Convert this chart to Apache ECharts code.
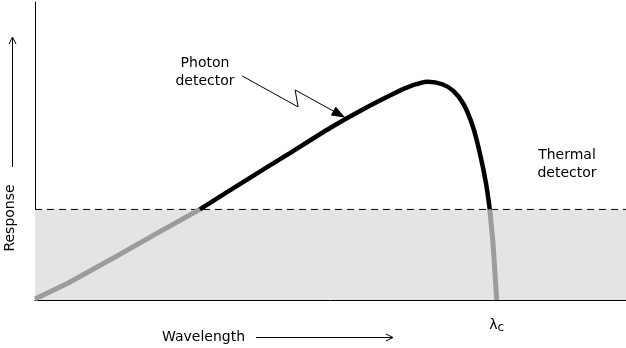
<!DOCTYPE html>
<html>
<head>
<meta charset="utf-8">
<title>Photon vs thermal detector response</title>
<script src="https://cdn.jsdelivr.net/npm/echarts@6/dist/echarts.min.js"></script>
<style>
  html, body { margin: 0; padding: 0; background: #fff; }
  #chart { width: 626px; height: 348px; }
</style>
</head>
<body>
<div id="chart"></div>
<script>
// Wavelength in % of the cutoff wavelength, response in arbitrary units.
const cutoffWavelength = 100;
const thermalLevel = 30.4;

// Photon detector response, split where it crosses the thermal level.
const photonBelowRise = [[0, 0.3], [7.2, 5.7], [17.8, 14.8], [26.0, 22.0], [35.7, 30.4]];
const photonAbove = [
  [35.7, 30.4], [45.5, 40.0], [55.2, 49.3], [64.0, 57.8], [70.5, 63.5],
  [76.2, 68.1], [80.5, 71.3], [85.1, 73.2], [88.2, 72.4], [90.6, 70.2],
  [92.8, 65.8], [94.9, 57.9], [96.4, 48.9], [97.7, 39.0], [98.5, 30.4]
];
const photonBelowCutoff = [[98.5, 30.4], [99.2, 19.1], [100, 0]];

// Flat thermal detector response across the whole wavelength range.
const thermalResponse = [[0, thermalLevel], [128, thermalLevel]];

// Point on the curve that the "Photon detector" callout points to.
const calloutAnchor = [67.6, 61.1];

const FONT = '"DejaVu Sans", sans-serif';
const BLACK = '#000';
const GREY = '#9c9c9c';

const chart = echarts.init(document.getElementById('chart'), null, { renderer: 'canvas' });

chart.setOption({
  animation: false,
  backgroundColor: '#fff',
  grid: { left: 35, right: 0, top: 2, bottom: 48, containLabel: false },
  xAxis: {
    type: 'value', min: 0, max: 128,
    axisLine: { show: true, lineStyle: { color: BLACK, width: 1 } },
    axisTick: { show: false },
    splitLine: { show: false },
    axisLabel: {
      show: true,
      customValues: [cutoffWavelength],
      margin: 17,
      formatter: () => '{l|λ}{s|c}',
      rich: {
        l: { fontFamily: FONT, fontSize: 14, color: BLACK },
        s: { fontFamily: FONT, fontSize: 12, color: BLACK, padding: [5, 0, 0, 0] }
      }
    }
  },
  yAxis: {
    type: 'value', min: 0, max: 100,
    axisLine: { show: true, lineStyle: { color: BLACK, width: 1 } },
    axisTick: { show: false },
    axisLabel: { show: false },
    splitLine: { show: false }
  },
  series: [
    {
      name: 'Thermal detector',
      type: 'line',
      data: thermalResponse,
      symbol: 'none',
      z: 1,
      lineStyle: { color: BLACK, width: 1, type: [7, 5] },
      areaStyle: { color: '#e4e4e4', opacity: 1 }
    },
    {
      name: 'Photon detector (below thermal, rising)',
      type: 'line',
      data: photonBelowRise,
      symbol: 'none',
      z: 3,
      lineStyle: { color: GREY, width: 5 }
    },
    {
      name: 'Photon detector',
      type: 'line',
      data: photonAbove,
      symbol: 'none',
      smooth: 0.25,
      z: 4,
      lineStyle: { color: BLACK, width: 4.5 }
    },
    {
      name: 'Photon detector (below thermal, cutoff)',
      type: 'line',
      data: photonBelowCutoff,
      symbol: 'none',
      z: 3,
      lineStyle: { color: GREY, width: 5 }
    }
  ],
  graphic: [
    {
      id: 'yName', type: 'text', x: 10, y: 218, rotation: Math.PI / 2,
      style: { text: 'Response', font: '14px ' + FONT, fill: BLACK, align: 'center', verticalAlign: 'middle' }
    },
    {
      id: 'yArrowShaft', type: 'line',
      shape: { x1: 12.5, y1: 167, x2: 12.5, y2: 38 },
      style: { stroke: BLACK, lineWidth: 1 }
    },
    {
      id: 'yArrowHead', type: 'polyline',
      shape: { points: [[9, 44], [12.5, 37], [16, 44]] },
      style: { stroke: BLACK, lineWidth: 1, fill: null }
    },
    {
      id: 'xName', type: 'text', x: 162, y: 337,
      style: { text: 'Wavelength', font: '14px ' + FONT, fill: BLACK, align: 'left', verticalAlign: 'middle' }
    },
    {
      id: 'xArrowShaft', type: 'line',
      shape: { x1: 256, y1: 337.5, x2: 392, y2: 337.5 },
      style: { stroke: BLACK, lineWidth: 1 }
    },
    {
      id: 'xArrowHead', type: 'polyline',
      shape: { points: [[386, 334], [393, 337.5], [386, 341]] },
      style: { stroke: BLACK, lineWidth: 1, fill: null }
    },
    {
      id: 'photonLabel', type: 'text', x: 205, y: 72,
      style: { text: 'Photon\ndetector', font: '14px ' + FONT, lineHeight: 18, fill: BLACK, align: 'center', verticalAlign: 'middle' }
    },
    {
      id: 'thermalLabel', type: 'text', x: 567, y: 164,
      style: { text: 'Thermal\ndetector', font: '14px ' + FONT, lineHeight: 18, fill: BLACK, align: 'center', verticalAlign: 'middle' }
    }
  ]
});

// Lightning-bolt callout from the label to the photon detector curve.
const tip = chart.convertToPixel({ gridIndex: 0 }, calloutAnchor);
const tx = tip[0] - 3, ty = tip[1] - 1;
const bolt = [[tx - 102, ty - 41], [tx - 46, ty - 10], [tx - 49, ty - 27], [tx - 10, ty - 5.5]];
const ang = Math.atan2(ty - bolt[2][1], tx - bolt[2][0]);
const headLen = 12, headHalf = 4.5;
const bx = tx - headLen * Math.cos(ang), by = ty - headLen * Math.sin(ang);
const head = [
  [tx, ty],
  [bx + headHalf * Math.sin(ang), by - headHalf * Math.cos(ang)],
  [bx - headHalf * Math.sin(ang), by + headHalf * Math.cos(ang)]
];

chart.setOption({
  graphic: [
    {
      id: 'calloutLine', type: 'polyline',
      shape: { points: bolt },
      style: { stroke: BLACK, lineWidth: 1, fill: null }
    },
    {
      id: 'calloutHead', type: 'polygon',
      shape: { points: head },
      style: { fill: BLACK, stroke: BLACK, lineWidth: 1 }
    }
  ]
});
</script>
</body>
</html>
